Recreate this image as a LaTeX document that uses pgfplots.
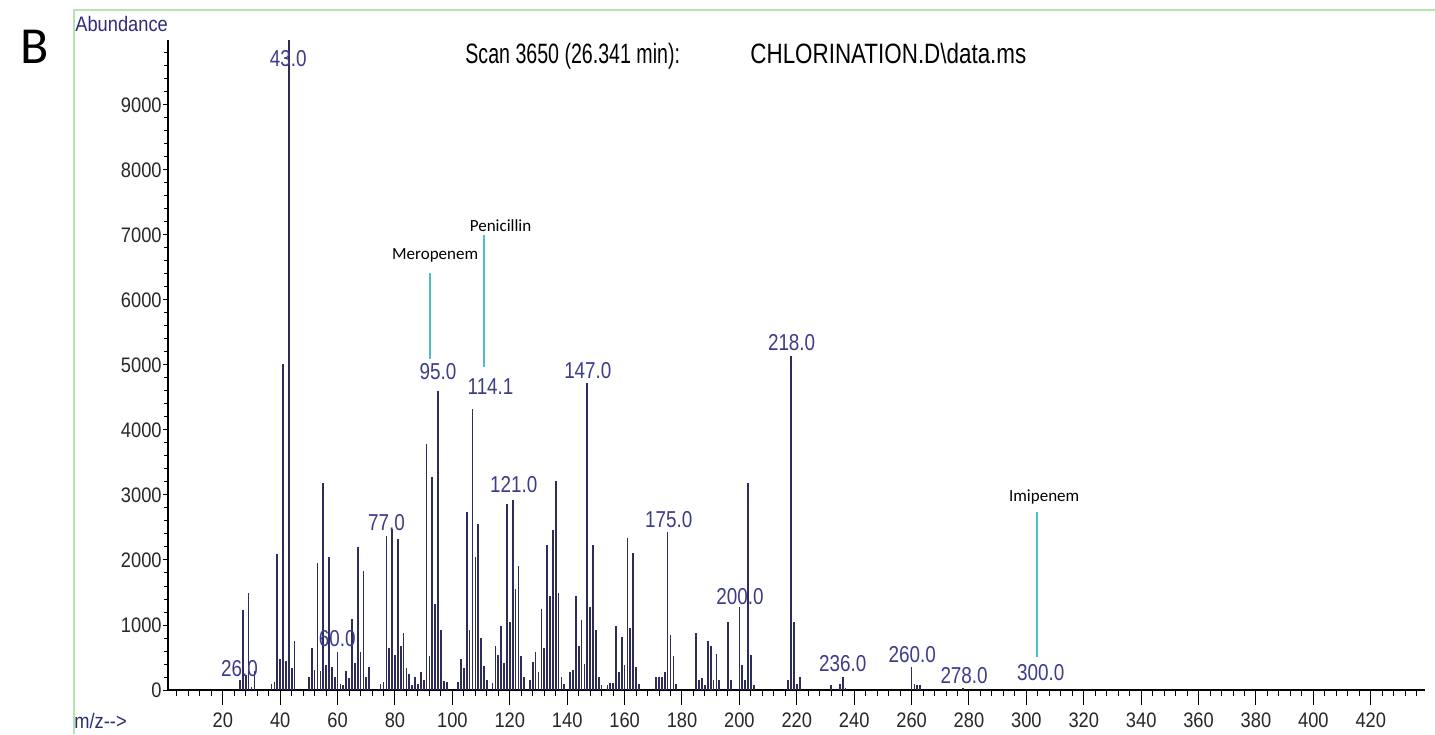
\documentclass[border=0pt]{standalone}
\usepackage{pgfplots}
\pgfplotsset{compat=1.18}
\usepackage{fontspec}
\setmainfont{Liberation Sans}
\newfontfamily\tickff{Liberation Sans}[FakeStretch=0.87]
\newfontfamily\peakff{Liberation Sans}[FakeStretch=0.82]
\newfontfamily\titleff{Liberation Sans}[FakeStretch=0.70]
\newfontfamily\titlebff{Liberation Sans}[FakeStretch=0.80]
\newfontfamily\calff{Carlito}
\definecolor{peak}{RGB}{45,45,90}
\definecolor{plab}{RGB}{60,60,140}
\definecolor{cyanl}{RGB}{80,190,200}
\definecolor{framec}{RGB}{180,228,180}
\definecolor{navy}{RGB}{45,45,120}
\definecolor{tickl}{RGB}{40,40,40}
\newcommand{\tickf}{\tickff\fontsize{10.5}{12}\selectfont}
\newcommand{\peakf}{\peakff\fontsize{11.5}{13}\selectfont}
\begin{document}
\begin{tikzpicture}[x=1pt,y=1pt]
\useasboundingbox (0,0) rectangle (717.5,367);
\fill[white] (0,0) rectangle (717.5,367);
\draw[framec, line width=1pt] (37,0) -- (37,362) -- (717.5,362);
\node[font=\calff\fontsize{26}{30}\selectfont, anchor=center] at (17.5,343.5) {B};
\node[font=\tickf, text=navy, anchor=base west, inner sep=0pt] at (37.5,351) {Abundance};
\node[font=\tickf, text=navy, anchor=base west, inner sep=0pt] at (37,3) {m/z-{}-{}>};
\node[font=\titleff\fontsize{14}{16}\selectfont, anchor=base west, inner sep=0pt] at (232.5,335) {Scan 3650 (26.341 min):};
\node[font=\titlebff\fontsize{14}{16}\selectfont, anchor=base west, inner sep=0pt] at (375,335) {CHLORINATION.D\textbackslash data.ms};

% y ticks axis
\begin{axis}[
  at={(84pt,22pt)}, anchor=south west, scale only axis,
  width=628.5pt, height=325pt,
  xmin=0.906, xmax=438.9, ymin=0, ymax=10000,
  axis y line*=left, axis x line=none,
  axis line style={black, line width=0.7pt},
  xtick=\empty,
  ytick={0,1000,...,9000}, minor ytick={200,400,...,9800},
  scaled y ticks=false,
  tick align=outside, major tick length=2.5pt, minor tick length=1.8pt,
  tick style={black, line width=0.5pt},
  yticklabel style={font=\tickf, text=tickl, inner sep=0.5pt},
  /pgf/number format/assume math mode=true, /pgf/number format/1000 sep={},
]
\end{axis}

\begin{axis}[
  at={(84pt,22pt)}, anchor=south west, scale only axis,
  width=628.5pt, height=325pt,
  xmin=0.906, xmax=438.9, ymin=0, ymax=10000, clip=false,
  axis x line*=bottom, axis y line*=left,
  axis line style={black, line width=0.7pt},
  xtick={20,40,...,420}, minor xtick={4,8,...,436}, ytick=\empty,
  scaled x ticks=false,
  tick align=outside, major tick length=7.5pt, minor tick length=3pt,
  tick style={black, line width=0.5pt},
  xticklabel style={font=\tickf, text=tickl, inner sep=1pt, yshift=-2.5pt},
  /pgf/number format/assume math mode=true, /pgf/number format/1000 sep={},
]
\addplot[ycomb, peak, line width=0.85pt, mark=none] coordinates {
(26,150)(27,1230)(28,230)(29,1500)(30,50)(31,300)
(37,100)(38,130)(39,2090)(40,470)(41,5010)(42,450)(43,10000)(44,340)(45,760)
(50,200)(51,640)(52,310)(53,1950)(54,300)(55,3190)(56,390)(57,2050)(58,360)(59,200)
(60,590)(61,100)(62,80)(63,290)(64,180)(65,1090)(66,410)(67,2200)(68,590)(69,1830)
(70,200)(71,360)(75,100)(76,130)(77,2370)(78,640)(79,2470)
(80,540)(81,2320)(82,670)(83,870)(84,340)(85,250)(86,80)(87,200)(88,100)(89,280)
(90,160)(91,3790)(92,520)(93,3280)(94,1320)(95,4600)(96,930)(97,140)(98,120)
(102,120)(103,470)(104,340)(105,2740)(106,930)(107,4330)(108,2050)(109,2550)
(110,800)(111,370)(112,150)(114,110)(115,670)(116,540)(117,980)(118,420)(119,2860)
(120,1040)(121,2920)(122,1550)(123,1900)(124,530)(125,200)(127,150)(128,430)(129,590)
(130,280)(131,1240)(132,640)(133,2230)(134,1450)(135,2460)(136,3210)(137,1490)(138,200)(139,90)
(141,280)(142,310)(143,1440)(144,670)(145,1080)(146,400)(147,4730)(148,1280)(149,2230)
(150,920)(151,200)(152,80)(154,80)(155,110)(156,110)(157,980)(158,280)(159,820)
(160,390)(161,2340)(162,950)(163,2110)(164,360)(165,90)
(171,200)(172,200)(173,200)(174,280)(175,2430)(176,850)(177,520)(178,90)
(185,870)(186,150)(187,180)(188,80)(189,750)(190,670)(191,150)(192,560)(193,150)
(196,1040)(197,150)(200,1270)(201,390)(202,150)(203,3190)(204,540)(205,80)
(217,150)(218,5140)(219,1040)(220,90)(221,200)
(232,70)(235,90)(236,200)(237,30)
(260,360)(261,100)(262,80)(263,80)(278,30)
};
% annotation leader lines
\addplot[cyanl, line width=0.9pt, mark=none] coordinates {(92.2,5090)(92.2,6420)};
\addplot[cyanl, line width=0.9pt, mark=none] coordinates {(111.1,4974)(111.1,7000)};
\addplot[cyanl, line width=0.9pt, mark=none] coordinates {(303.6,512)(303.6,2743)};
\node[font=\calff\fontsize{8.5}{10}\selectfont, inner sep=0pt] at (axis cs:94.0,6690) {Meropenem};
\node[font=\calff\fontsize{8.5}{10}\selectfont, inner sep=0pt] at (axis cs:116.8,7150) {Penicillin};
\node[font=\calff\fontsize{8.5}{10}\selectfont, inner sep=0pt] at (axis cs:306.2,2970) {Imipenem};
% peak labels
\begin{scope}[every node/.style={font=\peakf, text=plab, inner sep=0pt}]
\node at (axis cs:25.8,331) {26.0};
\node at (axis cs:42.8,9708) {43.0};
\node at (axis cs:59.9,785) {60.0};
\node at (axis cs:77.0,2574) {77.0};
\node at (axis cs:95.0,4900) {95.0};
\node at (axis cs:113.3,4666) {114.1};
\node at (axis cs:121.4,3160) {121.0};
\node at (axis cs:147.2,4910) {147.0};
\node at (axis cs:175.4,2628) {175.0};
\node at (axis cs:200.2,1443) {200.0};
\node at (axis cs:218.2,5346) {218.0};
\node at (axis cs:236.0,412) {236.0};
\node at (axis cs:260.2,551) {260.0};
\node at (axis cs:278.3,218) {278.0};
\node at (axis cs:305.0,269) {300.0};
\end{scope}
\end{axis}
\end{tikzpicture}
\end{document}
